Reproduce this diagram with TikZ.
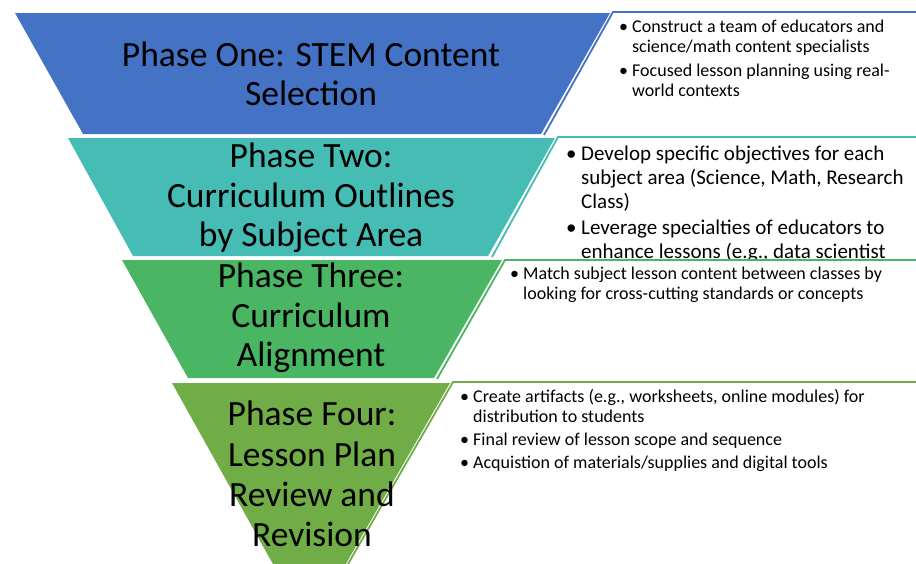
\documentclass[tikz,border=0pt]{standalone}
\usepackage{fontspec}
\setmainfont{Carlito}
\definecolor{cOne}{RGB}{68,114,196}
\definecolor{cTwo}{RGB}{70,189,180}
\definecolor{cThree}{RGB}{74,181,99}
\definecolor{cFour}{RGB}{112,173,71}
\newcommand{\bul}[1]{\makebox[#1][l]{•}}
\newcommand{\ind}[1]{\hspace*{#1}}
\begin{document}
\begin{tikzpicture}[x=1pt,y=-1pt,
  title/.style={align=center,font=\fontsize{35.5}{39.5}\selectfont,inner sep=0},
  boxline/.style={line width=1.8pt},
  btext/.style={anchor=north west,align=left,inner sep=0},
  small/.style={font=\fontsize{18}{20}\selectfont}]
\useasboundingbox (0,0) rectangle (916,563);
\clip (0,0) rectangle (916,563);
\fill[white] (0,0) rectangle (916,563);
% Phase One
\fill[cOne] (15,13) -- (610,13) -- (541,134) -- (83,134) -- cycle;
\fill[white] (613,12) -- (930,12) -- (930,136) -- (544,136) -- cycle;
\draw[boxline,cOne] (544,135) -- (613,12) -- (930,12);
\node[title] (t1) at (311,74) {Phase One: STEM Content\\Selection};
\node[btext,small] (d1) at (619,20)
  {\bul{13pt}Construct a team of educators and\\
   \ind{13pt}science/math content specialists\\[4pt]
   \bul{13pt}Focused lesson planning using real-\\
   \ind{13pt}world contexts};
% Phase Two
\fill[cTwo] (68,138) -- (555,138) -- (488,256) -- (133,256) -- cycle;
\fill[white] (558,137) -- (930,137) -- (930,258) -- (492,258) -- cycle;
\draw[boxline,cTwo] (492,257) -- (558,137) -- (930,137);
\node[title] (t2) at (311,198) {Phase Two:\\Curriculum Outlines\\by Subject Area};
\node[btext,font=\fontsize{21}{24}\selectfont] (d2) at (566,145.5)
  {\bul{11.5pt}\,Develop specific objectives for each\\
   \ind{11.5pt}\,subject area (Science, Math, Research\\
   \ind{11.5pt}\,Class)\\[2pt]
   \bul{11.5pt}\,Leverage specialties of educators to\\
   \ind{11.5pt}\,enhance lessons (e.g., data scientist};
% Phase Three
\fill[cThree] (122,260) -- (502,260) -- (434,378) -- (188,378) -- cycle;
\fill[white] (505,260) -- (930,260) -- (930,381) -- (436,381) -- cycle;
\draw[boxline,cThree] (437,379) -- (505,260) -- (930,260);
\node[title] (t3) at (311,318) {Phase Three:\\Curriculum\\Alignment};
\node[btext,font=\fontsize{18}{19.5}\selectfont] (d3) at (510,267)
  {\bul{13pt}Match subject lesson content between classes by\\
   \ind{13pt}looking for cross-cutting standards or concepts};
% Phase Four
\fill[cFour] (172,383) -- (450,383) -- (325,600) -- (293,600) -- cycle;
\fill[white] (453,382) -- (930,382) -- (930,600) -- (333,590) -- cycle;
\draw[boxline,cFour] (333,590) -- (453,382) -- (930,382);
\node[title,font=\fontsize{35.5}{40.3}\selectfont] (t4) at (312,474) {Phase Four:\\Lesson Plan\\Review and\\Revision};
\node[btext,small] (d4) at (460,389)
  {\bul{13pt}Create artifacts (e.g., worksheets, online modules) for\\
   \ind{13pt}distribution to students\\[3pt]
   \bul{13pt}Final review of lesson scope and sequence\\[3.5pt]
   \bul{13pt}Acquistion of materials/supplies and digital tools};
\end{tikzpicture}
\end{document}
